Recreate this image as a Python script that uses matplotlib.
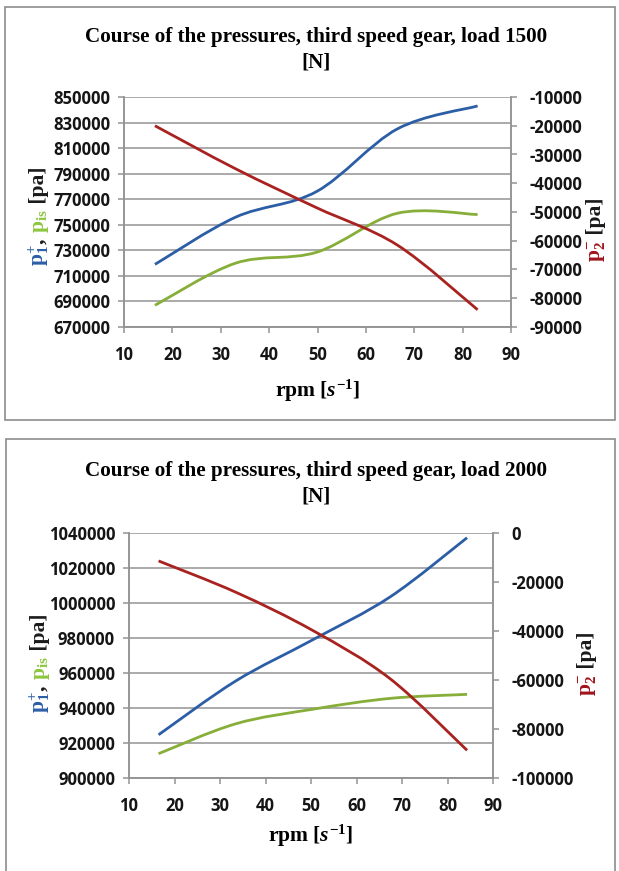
import matplotlib
matplotlib.use("Agg")
import matplotlib.pyplot as plt
import numpy as np
from matplotlib.path import Path
from matplotlib.patches import PathPatch, Rectangle

plt.rcParams['mathtext.fontset'] = 'custom'
plt.rcParams['mathtext.rm'] = 'Liberation Serif:bold'
plt.rcParams['mathtext.it'] = 'Liberation Serif:italic:bold'
plt.rcParams['mathtext.bf'] = 'Liberation Serif:bold'

# load 1500 N
rpm_1500 = [16.4, 33.1, 49.8, 66.5, 83.1]
p1_1500 = [719000, 756000, 776000, 825000, 843000]
pis_1500 = [687000, 720000, 728500, 759000, 758000]
p2_1500 = [-20000, -35000, -48500, -61500, -84000]

# load 2000 N
rpm_2000 = [16.5, 33.5, 50.4, 67.4, 84.3]
p1_2000 = [924700, 955500, 979000, 1003500, 1037300]
pis_2000 = [913900, 931000, 939300, 945500, 947800]
p2_2000 = [-11400, -24200, -39800, -59500, -88700]

x_ticks = [10, 20, 30, 40, 50, 60, 70, 80, 90]
yticks_1500 = [670000, 690000, 710000, 730000, 750000, 770000, 790000, 810000, 830000, 850000]
y2ticks_1500 = [-90000, -80000, -70000, -60000, -50000, -40000, -30000, -20000, -10000]
yticks_2000 = [900000, 920000, 940000, 960000, 980000, 1000000, 1020000, 1040000]
y2ticks_2000 = [-100000, -80000, -60000, -40000, -20000, 0]

blue = "#2C5EA6"
green = "#87AE38"
red = "#A82220"
gray = "#939393"
tick_font = ['Open Sans', 'Liberation Sans']
serif = 'Liberation Serif'

W, H = 619, 871
fig = plt.figure(figsize=(W / 100, H / 100), dpi=100)


def px_axes(left, top, right, bottom):
    return fig.add_axes([left / W, 1 - bottom / H, (right - left) / W, (bottom - top) / H])


def smooth_line(ax, x, y, color):
    # Excel style smoothed line: cubic bezier through the points
    pts = np.column_stack([x, y]).astype(float)
    ext = np.vstack([pts[0], pts, pts[-1]])
    verts = [pts[0]]
    codes = [Path.MOVETO]
    for i in range(len(pts) - 1):
        c1 = ext[i + 1] + (ext[i + 2] - ext[i]) / 6
        c2 = ext[i + 2] - (ext[i + 3] - ext[i + 1]) / 6
        verts += [c1, c2, pts[i + 1]]
        codes += [Path.CURVE4] * 3
    ax.add_patch(PathPatch(Path(verts, codes), fill=False, edgecolor=color,
                           lw=2.0, capstyle='butt', zorder=3))


def style_axes(ax, ax2, yticks, y2ticks):
    ax.set_xlim(10, 90)
    ax.set_xticks(x_ticks, labels=[str(v) for v in x_ticks])
    ax.set_ylim(yticks[0], yticks[-1])
    ax.set_yticks(yticks, labels=[str(v) for v in yticks])
    ax2.set_ylim(y2ticks[0], y2ticks[-1])
    ax2.set_yticks(y2ticks, labels=[str(v) for v in y2ticks])
    ax.grid(axis='y', color=gray, lw=1.1)
    ax.set_axisbelow(True)
    for a in (ax, ax2):
        for s in a.spines.values():
            s.set_color(gray)
            s.set_linewidth(1.1)
        a.spines['top'].set_visible(False)
        a.tick_params(colors=gray, length=4, width=1.1, pad=6)
        for lab in a.get_xticklabels() + a.get_yticklabels():
            lab.set_family(tick_font)
            lab.set_fontweight('bold')
            lab.set_fontsize(12)
            lab.set_color('#151515')
    ax2.tick_params(axis='y', pad=9)
    ax.tick_params(axis='x', pad=10)


def chain_label(x_px, y_px, parts):
    prev = None
    for txt, col in parts:
        if prev is None:
            prev = fig.text(x_px / W, y_px / H, txt, color=col, rotation=90,
                            rotation_mode='anchor', ha='left', va='baseline',
                            family=serif, fontweight='bold', fontsize=15.5)
        else:
            prev = fig.axes[0].annotate(txt, xy=(x_px, 1.0), xycoords=('figure pixels', prev),
                                        color=col, rotation=90, rotation_mode='anchor',
                                        ha='left', va='baseline', family=serif,
                                        fontweight='bold', fontsize=15.5)


def panel(rpm, p1, pis, p2, yticks, y2ticks, load, axbox, title_y, xlab_y):
    ax = px_axes(*axbox)
    ax2 = ax.twinx()
    smooth_line(ax, rpm, p1, blue)
    smooth_line(ax, rpm, pis, green)
    smooth_line(ax2, rpm, p2, red)
    style_axes(ax, ax2, yticks, y2ticks)
    fig.text(0.511, 1 - title_y / H, "Course of the pressures, third speed gear, load %d\n[N]" % load,
             ha='center', va='center', family=serif, fontweight='bold', fontsize=15.2,
             linespacing=1.35)
    fig.text((axbox[0] + axbox[2]) / 2 / W, 1 - xlab_y / H, r"rpm [$s^{\mathrm{-1}}$]",
             ha='center', va='center', family=serif, fontweight='bold', fontsize=15.5)
    return ax, ax2


ax_a, ax2_a = panel(rpm_1500, p1_1500, pis_1500, p2_1500, yticks_1500, y2ticks_1500, 1500,
                    (124, 97, 511, 327), 50, 391)
ax_b, ax2_b = panel(rpm_2000, p1_2000, pis_2000, p2_2000, yticks_2000, y2ticks_2000, 2000,
                    (129, 533, 493, 778), 484, 836)

left_parts = [(r"$\mathrm{p}_{1}^{+}$", blue), (", ", "#1a1a1a"),
              (r"$\mathrm{p}_{\mathrm{is}}$", "#8DC63F"), (" [pa]", "#1a1a1a")]
right_parts = [(r"$\mathrm{p}_{2}^{-}$", "#A0141C"), (" [pa]", "#1a1a1a")]
chain_label(44, H - 266, left_parts)
chain_label(45, H - 713, left_parts)
chain_label(601, H - 262, right_parts)
chain_label(592, H - 696, right_parts)

fig.patches.append(Rectangle((5 / W, 1 - 420 / H), 610 / W, 413 / H, transform=fig.transFigure,
                             fill=False, edgecolor='#8c8c8c', lw=1.2))
fig.patches.append(Rectangle((6 / W, -0.02), 609 / W, 1.02 - 439 / H, transform=fig.transFigure,
                             fill=False, edgecolor='#8c8c8c', lw=1.2))

fig.savefig("out.png", dpi=100)
